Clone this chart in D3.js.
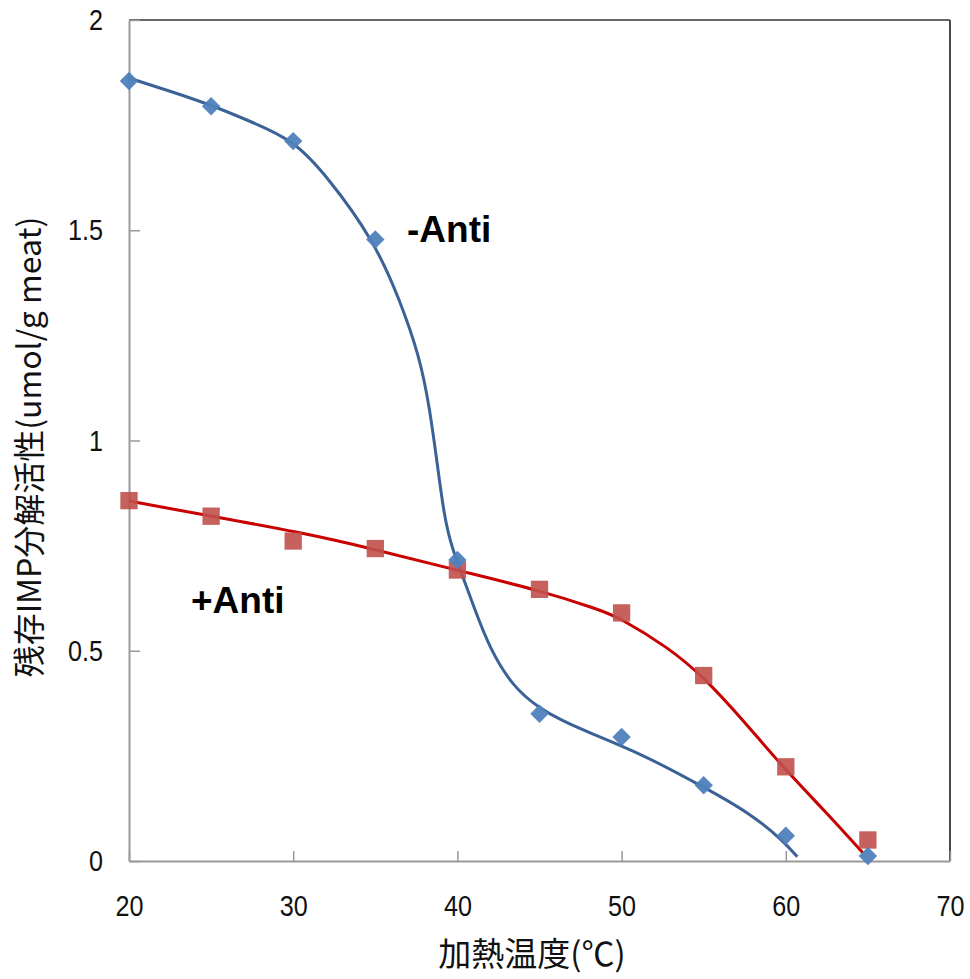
<!DOCTYPE html>
<html>
<head>
<meta charset="utf-8">
<script src="https://cdn.jsdelivr.net/npm/d3@7"></script>
<style>
  html, body { margin: 0; padding: 0; background: #fff; }
  svg { display: block; }
</style>
</head>
<body>
<svg id="chart" width="970" height="979"></svg>
<script>
// Heating temperature (°C) at which residual activity was measured
const temps = [20, 25, 30, 35, 40, 45, 50, 55, 60, 65];
// Residual IMP-degrading activity, without antioxidant (-Anti)
const minusAnti = [1.855, 1.795, 1.712, 1.478, 0.716, 0.350, 0.295, 0.180, 0.060, 0.012];
// Residual IMP-degrading activity, with antioxidant (+Anti)
const plusAnti = [0.857, 0.820, 0.761, 0.743, 0.692, 0.646, 0.590, 0.441, 0.224, 0.050];

// Smoothed fitted curves drawn over the measurements
const minusFitT = [20, 22.5, 25, 27.5, 30, 32.1, 34.9, 36.5, 37.7, 38.3, 38.8, 39.2, 39.7, 40.3, 41.0, 42.0, 43.4, 44.9, 46.3, 48.1, 51.1, 55.0, 57.8, 59.8, 60.7];
const minusFitV = [1.862, 1.831, 1.798, 1.757, 1.715, 1.627, 1.477, 1.334, 1.199, 1.080, 0.937, 0.818, 0.740, 0.680, 0.604, 0.502, 0.414, 0.366, 0.335, 0.304, 0.257, 0.176, 0.114, 0.050, 0.010];
const plusFitT = [20, 25, 30.4, 34.9, 39.9, 45.0, 48.7, 49.9, 52.8, 55.0, 57.4, 59.8, 62.5, 64.7];
const plusFitV = [0.856, 0.820, 0.782, 0.742, 0.692, 0.644, 0.597, 0.578, 0.509, 0.438, 0.335, 0.224, 0.114, 0.019];

const xTicks = [20, 30, 40, 50, 60, 70];
const yTicks = [0, 0.5, 1, 1.5, 2];
const yTickLabels = ["0", "0.5", "1", "1.5", "2"];

const xTitle = "加熱温度(℃)";
const yTitle = "残存IMP分解活性(umol/g meat)";

const svg = d3.select("#chart");
const margin = { left: 129, right: 20, top: 20, bottom: 118 };
const W = 970, H = 979;

const x = d3.scaleLinear().domain([20, 70]).range([margin.left, W - margin.right]);
const y = d3.scaleLinear().domain([0, 2]).range([H - margin.bottom, margin.top]);

const numFont = "'Liberation Sans', Arial, sans-serif";
const labelFont = "'Liberation Sans', Arial, sans-serif";
const cjkFont = "'Noto Sans CJK JP', sans-serif";
const squeeze = 0.84; // condensed look for the tick numerals

// Plot-area frame: dark top/right edges
svg.append("line")
  .attr("x1", x(20)).attr("x2", x(70))
  .attr("y1", y(2)).attr("y2", y(2))
  .attr("stroke", "#333").attr("stroke-width", 1.5);
svg.append("line")
  .attr("x1", x(70)).attr("x2", x(70))
  .attr("y1", y(2)).attr("y2", y(0))
  .attr("stroke", "#4a4a4a").attr("stroke-width", 2);

// Y axis with inward ticks
const yAxis = d3.axisLeft(y)
  .tickValues(yTicks)
  .tickFormat((d, i) => yTickLabels[i])
  .tickSizeInner(-11).tickSizeOuter(0).tickPadding(26);
const gy = svg.append("g").attr("transform", `translate(${x(20)},0)`).call(yAxis);
gy.select(".domain").attr("stroke", "#9a9a9a").attr("stroke-width", 2);
gy.selectAll(".tick line").attr("stroke", "#9a9a9a").attr("stroke-width", 1.5);
gy.selectAll(".tick text")
  .attr("font-family", numFont).attr("font-size", 30).attr("fill", "#111")
  .attr("x", -26 / squeeze)
  .attr("transform", `scale(${squeeze},1)`);

// X axis with inward ticks
const xAxis = d3.axisBottom(x)
  .tickValues(xTicks)
  .tickFormat(d3.format("d"))
  .tickSizeInner(-10).tickSizeOuter(0).tickPadding(34);
const gx = svg.append("g").attr("transform", `translate(0,${y(0)})`).call(xAxis);
gx.select(".domain").attr("stroke", "#9a9a9a").attr("stroke-width", 2);
gx.selectAll(".tick line").attr("stroke", "#9a9a9a").attr("stroke-width", 1.5);
gx.selectAll(".tick text")
  .attr("font-family", numFont).attr("font-size", 30).attr("fill", "#111")
  .attr("transform", `scale(${squeeze},1)`);

// Axis titles
svg.append("text")
  .attr("x", 532).attr("y", 966)
  .attr("text-anchor", "middle")
  .attr("font-family", cjkFont).attr("font-size", 33).attr("fill", "#111")
  .text(xTitle);

svg.append("text")
  .attr("transform", `translate(41,447) rotate(-90)`)
  .attr("text-anchor", "middle")
  .attr("font-family", cjkFont).attr("font-size", 32).attr("fill", "#111")
  .text(yTitle);

// Fitted curves
const line = d3.line()
  .x(d => x(d[0])).y(d => y(d[1]))
  .curve(d3.curveBasis);

svg.append("path")
  .datum(minusFitT.map((t, i) => [t, minusFitV[i]]))
  .attr("d", line)
  .attr("fill", "none").attr("stroke", "#3b6296").attr("stroke-width", 3);

svg.append("path")
  .datum(plusFitT.map((t, i) => [t, plusFitV[i]]))
  .attr("d", line)
  .attr("fill", "none").attr("stroke", "#c80000").attr("stroke-width", 3);

// Measured points: squares for +Anti, diamonds for -Anti
svg.append("g").selectAll("path")
  .data(temps.map((t, i) => [t, plusAnti[i]]))
  .join("path")
  .attr("d", d3.symbol(d3.symbolSquare, 300))
  .attr("transform", d => `translate(${x(d[0])},${y(d[1])})`)
  .attr("fill", "#c0504d").attr("fill-opacity", 0.9);

svg.append("g").selectAll("path")
  .data(temps.map((t, i) => [t, minusAnti[i]]))
  .join("path")
  .attr("d", d3.symbol(d3.symbolSquare, 170))
  .attr("transform", d => `translate(${x(d[0])},${y(d[1])}) rotate(45)`)
  .attr("fill", "#4f81bd").attr("fill-opacity", 0.95);

// Series labels
svg.append("text")
  .attr("x", 407).attr("y", 242)
  .attr("font-family", labelFont).attr("font-weight", "bold")
  .attr("font-size", 37).attr("fill", "#000")
  .text("-Anti");
svg.append("text")
  .attr("x", 191).attr("y", 613)
  .attr("font-family", labelFont).attr("font-weight", "bold")
  .attr("font-size", 37).attr("fill", "#000")
  .text("+Anti");
</script>
</body>
</html>
